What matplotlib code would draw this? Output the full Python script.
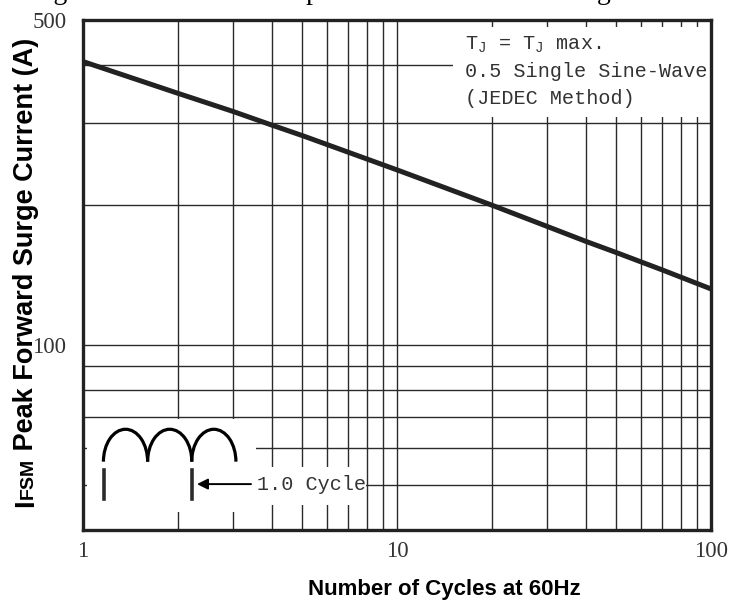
import matplotlib
matplotlib.use('Agg')
import matplotlib.pyplot as plt
from matplotlib.patches import Arc, Rectangle

# surge current curve
cycles = [1, 2, 3, 4, 5, 10, 20, 30, 40, 50, 70, 100]
surge = [407, 348, 318, 297, 282, 238, 200, 180, 167, 158, 145, 132]

x_grid = [2, 3, 4, 5, 6, 7, 8, 9, 10, 20, 30, 40, 50, 60, 70, 80, 90]
y_grid = [50, 60, 70, 80, 90, 100, 200, 300, 400]
x_ticks = [1, 10, 100]
y_ticks = [100, 500]

note_lines = [r'T$_\mathregular{J}$ = T$_\mathregular{J}$ max.',
              '0.5 Single Sine-Wave',
              '(JEDEC Method)']

plt.rcParams['mathtext.fontset'] = 'custom'
plt.rcParams['mathtext.rm'] = 'Liberation Mono'

W, H = 745, 613
fig = plt.figure(figsize=(W / 100, H / 100), dpi=100)
ax = fig.add_axes([83 / W, 1 - 530 / H, 628 / W, 510 / H])
ax.set_xscale('log')
ax.set_yscale('log')
ax.set_xlim(1, 100)
ax.set_ylim(40, 500)

ink = '#2b2b2b'
# grid
for v in x_grid:
    ax.axvline(v, color=ink, lw=1.0, zorder=1)
for v in y_grid:
    ax.axhline(v, color=ink, lw=1.0, zorder=1)

# ticks
ax.set_xticks(x_ticks, [str(t) for t in x_ticks])
ax.set_yticks(y_ticks, [str(t) for t in y_ticks])
ax.minorticks_off()
ax.tick_params(length=0)
ax.tick_params(axis='x', pad=8)
ax.tick_params(axis='y', pad=12)
for lab in ax.get_xticklabels() + ax.get_yticklabels():
    lab.set_fontfamily('Liberation Serif')
    lab.set_fontsize(16.5)
    lab.set_color('#333333')

for sp in ax.spines.values():
    sp.set_linewidth(2.4)
    sp.set_color('#222222')
    sp.set_zorder(10)

# white patches where the grid is broken
ax.add_patch(Rectangle((0.006, 0.035), 0.27, 0.183, transform=ax.transAxes,
                       facecolor='white', edgecolor='none', zorder=2))
ax.add_patch(Rectangle((0.275, 0.049), 0.176, 0.075, transform=ax.transAxes,
                       facecolor='white', edgecolor='none', zorder=2))
ax.add_patch(Rectangle((0.589, 0.81), 0.411, 0.177, transform=ax.transAxes,
                       facecolor='white', edgecolor='none', zorder=2))

# curve
ax.plot(cycles, surge, color='#222222', lw=3.6, zorder=5)

# note text
for i, s in enumerate(note_lines):
    ax.text(0.608, 0.941 - i * 0.053, s, transform=ax.transAxes,
            family='Liberation Mono', fontsize=14.5, color='#333333',
            va='baseline', ha='left', zorder=6)

# inset sine sketch
for cx in [0.0677, 0.1381, 0.2083]:
    ax.add_patch(Arc((cx, 0.134), 0.0704, 0.127, theta1=0, theta2=180,
                     transform=ax.transAxes, color='black', lw=2.3, zorder=6))
for bx in [0.0334, 0.1736]:
    ax.plot([bx, bx], [0.061, 0.118], transform=ax.transAxes,
            color=ink, lw=2.6, zorder=6)
ax.annotate('', xy=(0.1815, 0.090), xytext=(0.2675, 0.090),
            xycoords='axes fraction', textcoords='axes fraction',
            arrowprops=dict(arrowstyle='-|>', color='black', lw=1.4,
                            mutation_scale=16, shrinkA=0, shrinkB=0),
            zorder=6)
ax.text(0.277, 0.090, '1.0 Cycle', transform=ax.transAxes,
        family='Liberation Mono', fontsize=14.5, color='#333333',
        va='center', ha='left', zorder=6)

# x label
fig.text(444 / W, 1 - 590 / H, 'Number of Cycles at 60Hz', ha='center',
         va='center', family='Liberation Sans', weight='bold', fontsize=16)

# title that sits mostly above the top edge, only descenders show
fig.text(0.5, 1 + 1 / H, 'Fig.1 Maximum Non-Repetitive Peak Forward Surge Current',
         ha='center', va='baseline', family='Liberation Serif', fontsize=20)

# y label built from pieces (smaller FSM)
pieces = [('I', 19.5), ('FSM', 14), (' Peak Forward Surge Current (A)', 19.5)]
fig.canvas.draw()
renderer = fig.canvas.get_renderer()
ypix = 507
for s, fs in pieces:
    t = fig.text(33 / W, 1 - ypix / H, s, rotation=90, rotation_mode='anchor',
                 ha='left', va='baseline', family='Liberation Sans',
                 weight='bold', fontsize=fs)
    ext = t.get_window_extent(renderer)
    ypix -= ext.height

fig.savefig('out.png', dpi=100)
